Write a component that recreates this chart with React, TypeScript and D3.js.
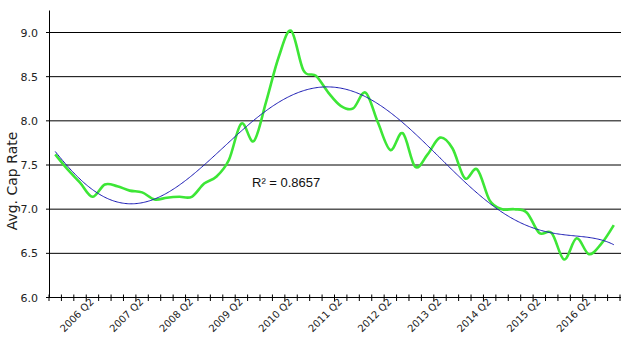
import React from "react";
import * as d3 from "d3";

const categories = [
  "2005 Q3", "2005 Q4",
  "2006 Q1", "2006 Q2", "2006 Q3", "2006 Q4",
  "2007 Q1", "2007 Q2", "2007 Q3", "2007 Q4",
  "2008 Q1", "2008 Q2", "2008 Q3", "2008 Q4",
  "2009 Q1", "2009 Q2", "2009 Q3", "2009 Q4",
  "2010 Q1", "2010 Q2", "2010 Q3", "2010 Q4",
  "2011 Q1", "2011 Q2", "2011 Q3", "2011 Q4",
  "2012 Q1", "2012 Q2", "2012 Q3", "2012 Q4",
  "2013 Q1", "2013 Q2", "2013 Q3", "2013 Q4",
  "2014 Q1", "2014 Q2", "2014 Q3", "2014 Q4",
  "2015 Q1", "2015 Q2", "2015 Q3", "2015 Q4",
  "2016 Q1", "2016 Q2", "2016 Q3", "2016 Q4",
];

const capRate = [
  7.62, 7.45, 7.3, 7.14, 7.28, 7.26, 7.21, 7.19, 7.11, 7.13,
  7.14, 7.14, 7.29, 7.37, 7.56, 7.97, 7.77, 8.22, 8.72, 9.02,
  8.57, 8.51, 8.32, 8.17, 8.14, 8.32, 7.98, 7.67, 7.86, 7.48,
  7.62, 7.81, 7.69, 7.35, 7.45, 7.1, 7.0, 7.0, 6.96, 6.73,
  6.73, 6.43, 6.67, 6.49, 6.61, 6.82,
];

const yTicks = [6.0, 6.5, 7.0, 7.5, 8.0, 8.5, 9.0];
const labelEvery = 4;
const labelOffset = 3; // first labelled category (2006 Q2)
const trendOrder = 6;
const rSquaredLabel = "R² = 0.8657";
const yTitle = "Avg. Cap Rate";

// least-squares polynomial fit (trendline)
function polyfit(xs: number[], ys: number[], deg: number) {
  const n = deg + 1;
  const mid = (xs[0] + xs[xs.length - 1]) / 2;
  const half = (xs[xs.length - 1] - xs[0]) / 2;
  const t = xs.map((x) => (x - mid) / half);
  const A: number[][] = Array.from({ length: n }, () => new Array(n + 1).fill(0));
  for (let k = 0; k < t.length; k++) {
    const pw: number[] = [];
    for (let j = 0; j < 2 * n; j++) pw.push(Math.pow(t[k], j));
    for (let r = 0; r < n; r++) {
      for (let c = 0; c < n; c++) A[r][c] += pw[r + c];
      A[r][n] += pw[r] * ys[k];
    }
  }
  for (let c = 0; c < n; c++) {
    let p = c;
    for (let r = c + 1; r < n; r++) if (Math.abs(A[r][c]) > Math.abs(A[p][c])) p = r;
    [A[c], A[p]] = [A[p], A[c]];
    for (let r = 0; r < n; r++) {
      if (r === c) continue;
      const f = A[r][c] / A[c][c];
      for (let k = c; k <= n; k++) A[r][k] -= f * A[c][k];
    }
  }
  const coef = A.map((row, i) => row[n] / row[i]);
  return (x: number) => {
    const tt = (x - mid) / half;
    let s = 0;
    for (let j = n - 1; j >= 0; j--) s = s * tt + coef[j];
    return s;
  };
}

export default function App() {
  const W = 623, H = 352;
  const left = 49, right = 620, top = 10.5, bottom = 297.5;
  const n = capRate.length;
  const x = d3.scaleLinear().domain([0, n]).range([left, right]);
  const y = d3.scaleLinear().domain([6, 9]).range([bottom, 32.5]);
  const cx = (i: number) => x(i + 0.5);

  const idx = capRate.map((_, i) => i);
  const line = d3
    .line<number>()
    .x((i) => cx(i))
    .y((i) => y(capRate[i]))
    .curve(d3.curveCatmullRom.alpha(0));

  const xs = idx.map((i) => i + 1);
  const fit = polyfit(xs, capRate, trendOrder);
  const samples = d3.range(0, n - 1 + 0.001, 0.1);
  const trend = d3
    .line<number>()
    .x((s) => cx(s))
    .y((s) => y(fit(s + 1)));

  const font = "'DejaVu Sans', sans-serif";

  return (
    <svg width={W} height={H} style={{ position: "absolute", left: 0, top: 0, background: "#fff" }}>
      {/* gridlines */}
      {yTicks.map((v) => (
        <g key={v}>
          <line x1={left - 3} x2={right + 1} y1={y(v)} y2={y(v)} stroke="#000" strokeWidth={1} />
          <text x={38} y={y(v) + 4} textAnchor="end" fontFamily={font} fontSize={11} fill="#222">
            {v.toFixed(1)}
          </text>
        </g>
      ))}
      {/* y axis */}
      <line x1={left + 0.5} x2={left + 0.5} y1={top} y2={bottom} stroke="#000" strokeWidth={1} />
      {/* x ticks */}
      {d3.range(0, n + 1).map((k) => (
        <line key={k} x1={x(k)} x2={x(k)} y1={bottom - 3} y2={bottom + 3.5} stroke="#000" strokeWidth={1} />
      ))}
      {categories.map((c, i) =>
        i % labelEvery === labelOffset ? (
          <text
            key={c}
            transform={`translate(${cx(i) + 2},${bottom + 5}) rotate(-45)`}
            textAnchor="end"
            fontFamily={font}
            fontSize={10}
            fill="#222"
          >
            {c}
          </text>
        ) : null
      )}
      <text
        transform={`translate(16.5,181) rotate(-90)`}
        textAnchor="middle"
        fontFamily={font}
        fontSize={14}
        fill="#222"
      >
        {yTitle}
      </text>
      {/* data line */}
      <path d={line(idx) || ""} fill="none" stroke="#3de636" strokeWidth={2.6} strokeLinejoin="round" />
      {/* trendline */}
      <path d={trend(samples) || ""} fill="none" stroke="#1a1ab4" strokeWidth={1} />
      <text x={252} y={186.5} fontFamily="'Liberation Sans', Arial, sans-serif" fontSize={13} fill="#111">
        {rSquaredLabel}
      </text>
    </svg>
  );
}
